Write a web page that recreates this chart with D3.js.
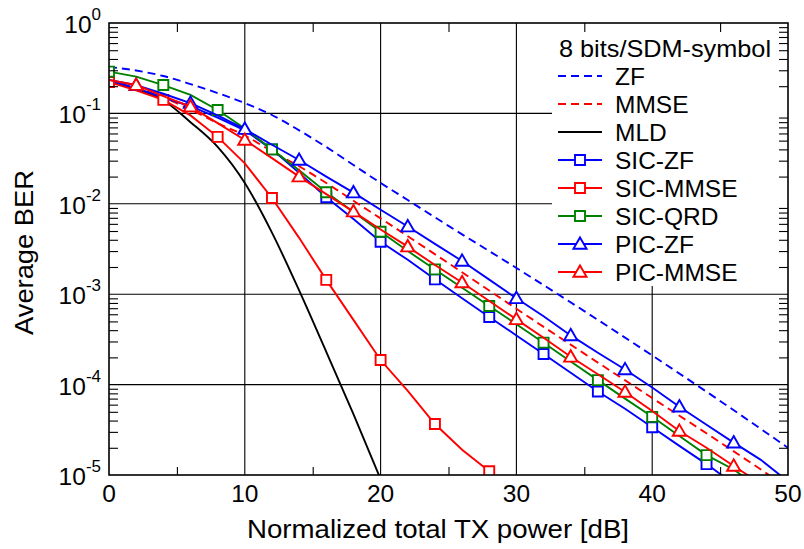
<!DOCTYPE html>
<html><head><meta charset="utf-8">
<script src="https://cdn.jsdelivr.net/npm/d3@7"></script>
<style>body{margin:0;background:#fff}svg{display:block;font-family:"Liberation Sans",Arial,sans-serif}</style>
</head><body><svg id="c" width="804" height="549"></svg>
<script>
// ---- data ----
const xTicks = [0, 10, 20, 30, 40, 50];
const xMinor = [5, 15, 25, 35, 45];
const yExps = [0, -1, -2, -3, -4, -5];
const legendTitle = "8 bits/SDM-symbol";

const zfX = [0,2,4,6,8,10,12,14,16,18,20,22,25,30,35,40,45,50];
const zfY = [0.326,0.298,0.259,0.211,0.168,0.130,0.096,0.065,0.0425,0.0269,0.0170,0.0110,5.7e-3,1.95e-3,6.5e-4,2.1e-4,6.6e-5,2.0e-5];

const mmseX = [0,2,4,6,8,10,12,14,16,18,20,25,30,35,40,45,50];
const mmseY = [0.225,0.19,0.15,0.11,0.078,0.057,0.038,0.026,0.017,0.0108,6.9e-3,2.2e-3,6.9e-4,2.2e-4,7.1e-5,2.3e-5,7.2e-6];

const mldX = [0,2,4,6,8,10,12,14,16,18,20];
const mldY = [0.222,0.186,0.14,0.08,0.0426,0.017,4.8e-3,1.1e-3,2.3e-4,4.7e-5,9e-6];

const sicZfX = [0,2,4,6,8,10,12,14,16,18,20,22,24,26,28,30,32,34,36,38,40,42,44,46];
const sicZfY = [0.23,0.19,0.15,0.12,0.09,0.065,0.04,0.022,0.0118,0.0068,3.8e-3,2.4e-3,1.46e-3,9e-4,5.6e-4,3.5e-4,2.18e-4,1.35e-4,8.4e-5,5.4e-5,3.37e-5,2.1e-5,1.32e-5,8e-6];
const sicZfMarks = [12,16,20,24,28,32,36,40,44];

const sicMmseX = [0,2,4,6,8,10,12,14,16,18,20,22,24,26,28];
const sicMmseY = [0.222,0.18,0.141,0.095,0.055,0.028,0.0116,0.0042,1.44e-3,5.2e-4,1.87e-4,8.5e-5,3.66e-5,1.9e-5,1.1e-5];
const sicMmseMarks = [0,4,8,12,16,20,24,28];

const sicQrdX = [0,2,4,6,8,10,12,14,16,18,20,22,24,26,28,30,32,34,36,38,40,42,44,46,48];
const sicQrdY = [0.29,0.255,0.206,0.16,0.109,0.068,0.040,0.0235,0.0134,8.1e-3,4.9e-3,3.0e-3,1.88e-3,1.18e-3,7.4e-4,4.65e-4,2.91e-4,1.8e-4,1.12e-4,7e-5,4.4e-5,2.7e-5,1.66e-5,1.15e-5,7e-6];
const sicQrdMarks = [0,4,8,12,16,20,24,28,32,36,40,44];

const picZfX = [0,2,4,6,8,10,12,14,16,18,20,22,24,26,28,30,32,34,36,38,40,42,44,46,48,50];
const picZfY = [0.235,0.205,0.165,0.13,0.095,0.067,0.045,0.0305,0.02,0.0133,8.6e-3,5.6e-3,3.6e-3,2.33e-3,1.45e-3,9.0e-4,5.7e-4,3.5e-4,2.25e-4,1.47e-4,9.3e-5,5.7e-5,3.6e-5,2.28e-5,1.47e-5,8.5e-6];
const picZfMarks = [2,6,10,14,18,22,26,30,34,38,42,46];

const picMmseX = [0,2,4,6,8,10,12,14,16,18,20,22,24,26,28,30,32,34,36,38,40,42,44,46,48];
const picMmseY = [0.234,0.206,0.155,0.119,0.078,0.0508,0.032,0.0200,0.0128,8.2e-3,5.2e-3,3.36e-3,2.1e-3,1.35e-3,8.4e-4,5.27e-4,3.3e-4,2.03e-4,1.3e-4,8.3e-5,5.1e-5,3.07e-5,2.0e-5,1.26e-5,8e-6];
const picMmseMarks = [2,6,10,14,18,22,26,30,34,38,42,46];

const series = [
  {name:"ZF", xs:zfX, ys:zfY, color:"#0000ff", dash:"8,5", marker:null, marks:[], smooth:true},
  {name:"MMSE", xs:mmseX, ys:mmseY, color:"#ff0000", dash:"8,5", marker:null, marks:[], smooth:true},
  {name:"MLD", xs:mldX, ys:mldY, color:"#000000", dash:null, marker:null, marks:[], smooth:true},
  {name:"SIC-ZF", xs:sicZfX, ys:sicZfY, color:"#0000ff", dash:null, marker:"square", marks:sicZfMarks},
  {name:"SIC-MMSE", xs:sicMmseX, ys:sicMmseY, color:"#ff0000", dash:null, marker:"square", marks:sicMmseMarks},
  {name:"SIC-QRD", xs:sicQrdX, ys:sicQrdY, color:"#008000", dash:null, marker:"square", marks:sicQrdMarks},
  {name:"PIC-ZF", xs:picZfX, ys:picZfY, color:"#0000ff", dash:null, marker:"triangle", marks:picZfMarks},
  {name:"PIC-MMSE", xs:picMmseX, ys:picMmseY, color:"#ff0000", dash:null, marker:"triangle", marks:picMmseMarks}
];

// ---- layout ----
const L = 109, R = 788, T = 23, B = 475;
const x = d3.scaleLinear().domain([0, 50]).range([L, R]);
const y = d3.scaleLog().domain([1e-5, 1]).range([B, T]);
const svg = d3.select("#c");

svg.append("defs").append("clipPath").attr("id","clip")
  .append("rect").attr("x",L).attr("y",T).attr("width",R-L).attr("height",B-T);

// grid
const grid = svg.append("g").attr("stroke","#000").attr("stroke-width",1.1);
xTicks.slice(1,-1).forEach(t => grid.append("line").attr("x1",x(t)).attr("x2",x(t)).attr("y1",T).attr("y2",B));
yExps.slice(1,-1).forEach(e => grid.append("line").attr("x1",L).attr("x2",R).attr("y1",y(Math.pow(10,e))).attr("y2",y(Math.pow(10,e))));

// series
const plot = svg.append("g").attr("clip-path","url(#clip)");
const sym = {square: d3.symbol().type(d3.symbolSquare).size(100), triangle: d3.symbol().type(d3.symbolTriangle).size(75)};
series.forEach(s => {
  const pts = s.xs.map((v,i)=>[v, s.ys[i]]);
  const line = d3.line().x(d=>x(d[0])).y(d=>y(d[1])).curve(s.smooth ? d3.curveMonotoneX : d3.curveLinear);
  plot.append("path").attr("d", line(pts)).attr("fill","none").attr("stroke",s.color)
    .attr("stroke-width",1.9).attr("stroke-dasharray", s.dash);
  if (s.marker) {
    s.marks.forEach(m => {
      const i = s.xs.indexOf(m);
      const cy = y(s.ys[i]) + (s.marker==="triangle" ? 1 : 0);
      plot.append("path").attr("d", sym[s.marker]()).attr("transform",`translate(${x(m)},${cy})`)
        .attr("fill","#fff").attr("stroke",s.color).attr("stroke-width",1.9);
    });
  }
});

// legend background
const lg = svg.append("g");
lg.append("rect").attr("x",552).attr("y",T).attr("width",R-552).attr("height",286-T).attr("fill","#fff");
lg.append("text").attr("x",559).attr("y",57).attr("font-size",24)
  .attr("textLength",212).attr("lengthAdjust","spacingAndGlyphs").text(legendTitle);
series.forEach((s,i) => {
  const cy = 76 + i*28;
  lg.append("line").attr("x1",558).attr("x2",602).attr("y1",cy).attr("y2",cy)
    .attr("stroke",s.color).attr("stroke-width",1.9).attr("stroke-dasharray", s.dash ? "8,5" : null);
  if (s.marker) lg.append("path").attr("d", sym[s.marker]()).attr("transform",`translate(580,${cy + (s.marker==="triangle"?1:0)})`)
      .attr("fill","#fff").attr("stroke",s.color).attr("stroke-width",1.9);
  lg.append("text").attr("x",615).attr("y",cy+9).attr("font-size",24.5).text(s.name);
});

// axes via d3 axis generators (ticks inward)
const minorY = [];
for (let e=-5; e<0; e++) for (let k=2; k<=9; k++) minorY.push(k*Math.pow(10,e));
svg.append("g").attr("transform",`translate(${L},0)`)
  .call(d3.axisRight(y).tickValues(minorY).tickSize(9).tickFormat(""))
  .call(g=>{g.select(".domain").remove(); g.selectAll("line").attr("stroke-width",1.1);});
svg.append("g").attr("transform",`translate(${R},0)`)
  .call(d3.axisLeft(y).tickValues(minorY).tickSize(9).tickFormat(""))
  .call(g=>{g.select(".domain").remove(); g.selectAll("line").attr("stroke-width",1.1);});
svg.append("g").attr("transform",`translate(0,${B})`)
  .call(d3.axisTop(x).tickValues(xMinor).tickSize(8).tickFormat(""))
  .call(g=>{g.select(".domain").remove(); g.selectAll("line").attr("stroke-width",1.1);});
svg.append("g").attr("transform",`translate(0,${T})`)
  .call(d3.axisBottom(x).tickValues(xMinor).tickSize(9).tickFormat(""))
  .call(g=>{g.select(".domain").remove(); g.selectAll("line").attr("stroke-width",1.1);});

// frame
svg.append("rect").attr("x",L).attr("y",T).attr("width",R-L).attr("height",B-T)
  .attr("fill","none").attr("stroke","#000").attr("stroke-width",1.6);

// tick labels
xTicks.forEach(t => svg.append("text").attr("x",x(t)).attr("y",502).attr("text-anchor","middle")
  .attr("font-size",24.5).text(t));
yExps.forEach(e => {
  const t = svg.append("text").attr("x",101).attr("y",y(Math.pow(10,e))+10).attr("text-anchor","end").attr("font-size",24.5);
  t.append("tspan").text("10");
  t.append("tspan").attr("dy",-13).attr("font-size",17).text(String(e).replace("\u2212","-"));
});

// axis titles
svg.append("text").attr("x",247).attr("y",538).attr("font-size",26)
  .attr("textLength",382).attr("lengthAdjust","spacingAndGlyphs")
  .text("Normalized total TX power [dB]");
svg.append("text").attr("transform","translate(33,335) rotate(-90)").attr("font-size",26)
  .attr("textLength",165).attr("lengthAdjust","spacingAndGlyphs")
  .text("Average BER");
</script></body></html>
